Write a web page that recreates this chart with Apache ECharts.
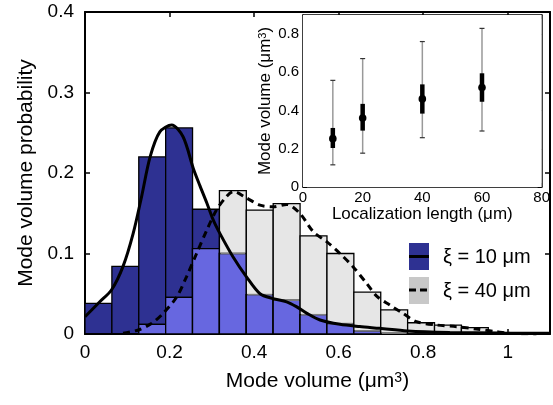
<!DOCTYPE html>
<html>
<head>
<meta charset="utf-8">
<script src="https://cdn.jsdelivr.net/npm/echarts@6/dist/echarts.min.js"></script>
<style>
  html, body { margin: 0; padding: 0; background: #fff; }
  #chart { width: 553px; height: 405px; }
</style>
</head>
<body>
<div id="chart"></div>
<script>
// histogram bins (mode volume, um^3)
const binEdges = [0, 0.0636, 0.1272, 0.1908, 0.2544, 0.318, 0.3816, 0.4452, 0.5088,
  0.5724, 0.636, 0.6996, 0.7632, 0.8268, 0.8904, 0.954];
const probXi10 = [0.038, 0.084, 0.220, 0.256, 0.155, 0.100, 0.049, 0.042, 0.024, 0.013,
  0.004, 0.001, 0, 0, 0];
const probXi40 = [0, 0, 0.012, 0.0455, 0.106, 0.178, 0.154, 0.162, 0.122, 0.100,
  0.052, 0.030, 0.014, 0.011, 0.008];

// smoothed distributions
const kdeXi10 = [[0, 0.0215], [0.035, 0.040], [0.063, 0.055], [0.090, 0.084], [0.114, 0.125],
  [0.134, 0.171], [0.154, 0.220], [0.177, 0.251], [0.205, 0.2596], [0.232, 0.245],
  [0.256, 0.206], [0.272, 0.184], [0.288, 0.163], [0.303, 0.142], [0.319, 0.125],
  [0.350, 0.096], [0.382, 0.071], [0.414, 0.050], [0.445, 0.044], [0.477, 0.040],
  [0.500, 0.034], [0.524, 0.026], [0.556, 0.0174], [0.603, 0.012], [0.650, 0.0092],
  [0.697, 0.0070], [0.763, 0.0037], [0.863, 0.0019], [0.981, 0.0012], [1.1, 0.001]];
const kdeXi40 = [[0.09, 0.001], [0.126, 0.005], [0.158, 0.0133], [0.185, 0.0257],
  [0.217, 0.046], [0.240, 0.071], [0.264, 0.100], [0.288, 0.129], [0.311, 0.154],
  [0.335, 0.171], [0.351, 0.177], [0.382, 0.169], [0.414, 0.160], [0.445, 0.158],
  [0.477, 0.161], [0.508, 0.150], [0.540, 0.127], [0.571, 0.115], [0.603, 0.100],
  [0.634, 0.0836], [0.666, 0.063], [0.690, 0.047], [0.721, 0.036], [0.752, 0.0257],
  [0.784, 0.0153], [0.831, 0.0112], [0.879, 0.0091], [0.926, 0.0062], [0.973, 0.0029],
  [1.005, 0.0009], [1.068, 0]];

// inset: mode volume vs localization length
const locLength = [10, 20, 40, 60];
const volMedian = [0.253, 0.361, 0.461, 0.521];
const volQ1 = [0.204, 0.295, 0.384, 0.446];
const volQ3 = [0.309, 0.435, 0.537, 0.595];
const volLow = [0.116, 0.177, 0.258, 0.293];
const volHigh = [0.558, 0.672, 0.761, 0.830];

const FONT = '"Liberation Sans", Arial, sans-serif';
const NAVY = '#2e3192';
const MID = '#6767e0';
const LIGHT = '#e6e6e6';

const chart = echarts.init(document.getElementById('chart'));

const histData = probXi10.map((v, i) => [binEdges[i], binEdges[i + 1], v, probXi40[i]]);
const errData = locLength.map((x, i) => [x, volMedian[i], volQ1[i], volQ3[i], volLow[i], volHigh[i]]);

function renderHist(params, api) {
  const x0 = api.value(0), x1 = api.value(1);
  const a = api.value(2), b = api.value(3);
  const lo = Math.min(a, b);
  const base = api.coord([x0, 0]);
  const box = (h) => {
    const p = api.coord([x1, h]);
    return { x: base[0], y: p[1], width: p[0] - base[0], height: base[1] - p[1] };
  };
  const children = [
    { type: 'rect', shape: box(a), style: { fill: NAVY, stroke: '#000', lineWidth: 1.3 } },
    { type: 'rect', shape: box(b), style: { fill: LIGHT, stroke: '#000', lineWidth: 1.3 } },
    { type: 'rect', shape: box(lo), style: { fill: MID, stroke: '#000', lineWidth: 1.3 } }
  ];
  if (b > a && a > 0) {
    const r = box(a);
    children.push({ type: 'line', shape: { x1: r.x + 1, y1: r.y, x2: r.x + r.width - 1, y2: r.y },
      style: { stroke: '#808080', lineWidth: 1.5 } });
  }
  return { type: 'group', children };
}

function renderErr(params, api) {
  const x = api.value(0);
  const pm = api.coord([x, api.value(1)]);
  const q1 = api.coord([x, api.value(2)]);
  const q3 = api.coord([x, api.value(3)]);
  const lo = api.coord([x, api.value(4)]);
  const hi = api.coord([x, api.value(5)]);
  const cx = pm[0];
  return {
    type: 'group',
    children: [
      { type: 'line', shape: { x1: cx, y1: lo[1], x2: cx, y2: hi[1] }, style: { stroke: '#999', lineWidth: 1.5 } },
      { type: 'line', shape: { x1: cx - 2.5, y1: lo[1], x2: cx + 2.5, y2: lo[1] }, style: { stroke: '#333', lineWidth: 1.2 } },
      { type: 'line', shape: { x1: cx - 2.5, y1: hi[1], x2: cx + 2.5, y2: hi[1] }, style: { stroke: '#333', lineWidth: 1.2 } },
      { type: 'line', shape: { x1: cx, y1: q1[1], x2: cx, y2: q3[1] }, style: { stroke: '#000', lineWidth: 4.5 } },
      { type: 'circle', shape: { cx: cx, cy: pm[1], r: 3.8 }, style: { fill: '#000' } }
    ]
  };
}

const tick = (len, w) => ({ show: true, inside: true, length: len, lineStyle: { color: '#000', width: w } });
const line = (w) => ({ show: true, onZero: false, lineStyle: { color: '#000', width: w } });

const option = {
  animation: false,
  backgroundColor: '#fff',
  textStyle: { fontFamily: FONT },
  grid: [
    { left: 85, top: 12, right: 3, bottom: 71 },
    { left: 303, top: 15, right: 6, bottom: 218, show: true, backgroundColor: '#fff', borderWidth: 0, z: 5 }
  ],
  xAxis: [
    {
      gridIndex: 0, type: 'value', min: 0, max: 1.1, interval: 0.2, position: 'bottom',
      axisLine: line(2), axisTick: tick(5, 1.5), splitLine: { show: false },
      axisLabel: { color: '#000', fontSize: 19, fontFamily: FONT, margin: 9, showMaxLabel: false },
      name: '{n|Mode volume (μm}{s|3}{n|)}', nameLocation: 'middle', nameGap: 37,
      nameTextStyle: { rich: {
        n: { fontSize: 21, fontFamily: FONT, color: '#000' },
        s: { fontSize: 14, fontFamily: FONT, color: '#000', verticalAlign: 'top' }
      } }
    },
    {
      gridIndex: 0, type: 'value', min: 0, max: 1.1, interval: 0.2, position: 'top',
      axisLine: line(2), axisTick: tick(5, 1.5), axisLabel: { show: false }, splitLine: { show: false }
    },
    {
      gridIndex: 1, type: 'value', min: 0, max: 80, interval: 20, position: 'bottom',
      axisLine: line(1.5), axisTick: tick(4, 1), splitLine: { show: false },
      axisLabel: { color: '#000', fontSize: 15, fontFamily: FONT, margin: 3 },
      name: 'Localization length (μm)', nameLocation: 'middle', nameGap: 16,
      nameTextStyle: { fontSize: 17, fontFamily: FONT, color: '#000' }
    },
    {
      gridIndex: 1, type: 'value', min: 0, max: 80, interval: 20, position: 'top',
      axisLine: line(1.5), axisTick: tick(4, 1), axisLabel: { show: false }, splitLine: { show: false }
    }
  ],
  yAxis: [
    {
      gridIndex: 0, type: 'value', min: 0, max: 0.4, interval: 0.1, position: 'left',
      axisLine: line(2), axisTick: tick(5, 1.5), splitLine: { show: false },
      axisLabel: { color: '#000', fontSize: 19, fontFamily: FONT, margin: 11 },
      name: 'Mode volume probability', nameLocation: 'middle', nameGap: 43,
      nameTextStyle: { fontSize: 21, fontFamily: FONT, color: '#000' }
    },
    {
      gridIndex: 0, type: 'value', min: 0, max: 0.4, interval: 0.1, position: 'right',
      axisLine: line(2), axisTick: tick(5, 1.5), axisLabel: { show: false }, splitLine: { show: false }
    },
    {
      gridIndex: 1, type: 'value', min: 0, max: 0.9, interval: 0.2, position: 'left',
      axisLine: line(1.5), axisTick: tick(4, 1), splitLine: { show: false },
      axisLabel: { color: '#000', fontSize: 15, fontFamily: FONT, margin: 4, showMaxLabel: false },
      name: '{n|Mode volume (μm}{s|3}{n|)}', nameLocation: 'middle', nameGap: 22,
      nameTextStyle: { rich: {
        n: { fontSize: 17, fontFamily: FONT, color: '#000' },
        s: { fontSize: 11, fontFamily: FONT, color: '#000', verticalAlign: 'top' }
      } }
    },
    {
      gridIndex: 1, type: 'value', min: 0, max: 0.9, interval: 0.2, position: 'right',
      axisLine: line(1.5), axisTick: tick(4, 1), axisLabel: { show: false }, splitLine: { show: false }
    }
  ],
  series: [
    {
      type: 'custom', name: 'histogram', xAxisIndex: 0, yAxisIndex: 0,
      renderItem: renderHist, data: histData, encode: { x: [0, 1], y: [2, 3] }, z: 2
    },
    {
      type: 'line', name: 'ξ = 10 μm', xAxisIndex: 0, yAxisIndex: 0, data: kdeXi10,
      smooth: 0.3, showSymbol: false, lineStyle: { color: '#000', width: 3 }, z: 3
    },
    {
      type: 'line', name: 'ξ = 40 μm', xAxisIndex: 0, yAxisIndex: 0, data: kdeXi40,
      smooth: 0.3, showSymbol: false, lineStyle: { color: '#000', width: 3, type: [7, 5] }, z: 3
    },
    {
      type: 'custom', name: 'inset', xAxisIndex: 2, yAxisIndex: 2,
      renderItem: renderErr, data: errData, encode: { x: 0, y: [1, 2, 3, 4, 5] }, z: 6
    }
  ],
  graphic: [
    { type: 'rect', shape: { x: 409, y: 243, width: 20, height: 27 }, style: { fill: NAVY }, z: 10 },
    { type: 'line', shape: { x1: 409, y1: 256.5, x2: 429, y2: 256.5 }, style: { stroke: '#000', lineWidth: 3 }, z: 11 },
    { type: 'text', x: 443, y: 257, style: { text: 'ξ = 10 μm', fontSize: 20, fontFamily: FONT, fill: '#000', verticalAlign: 'middle' }, z: 11 },
    { type: 'rect', shape: { x: 409, y: 277, width: 20, height: 27 }, style: { fill: '#c8c8c8' }, z: 10 },
    { type: 'line', shape: { x1: 409, y1: 290, x2: 429, y2: 290 }, style: { stroke: '#000', lineWidth: 3, lineDash: [7, 4] }, z: 11 },
    { type: 'text', x: 443, y: 291, style: { text: 'ξ = 40 μm', fontSize: 20, fontFamily: FONT, fill: '#000', verticalAlign: 'middle' }, z: 11 }
  ]
};

chart.setOption(option);
</script>
</body>
</html>
